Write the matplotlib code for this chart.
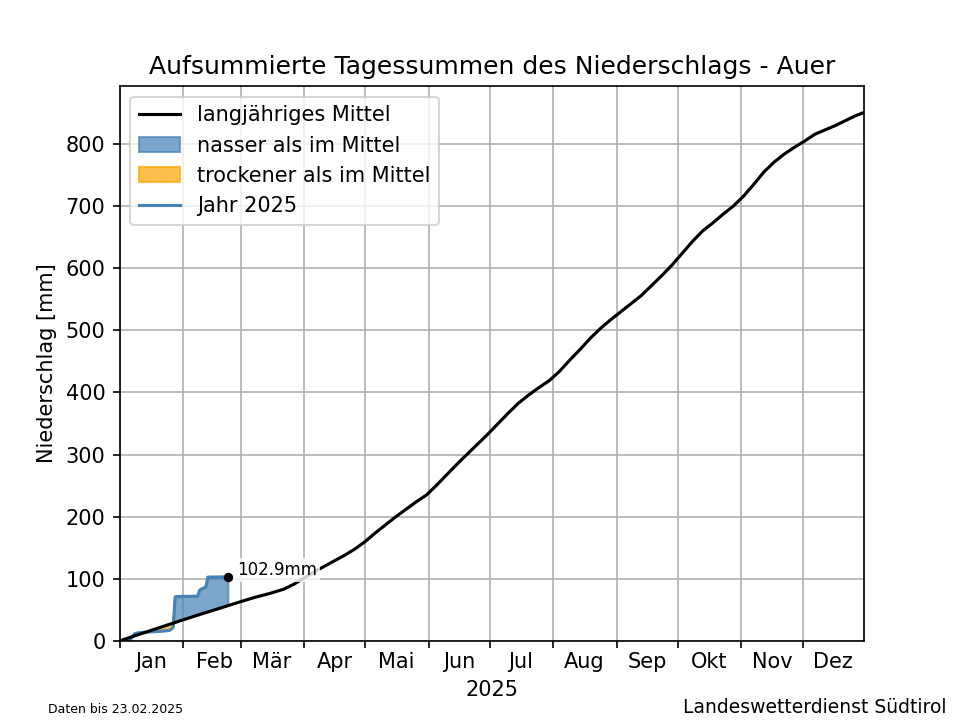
import numpy as np
import matplotlib
matplotlib.use("Agg")
import matplotlib.pyplot as plt
import matplotlib.dates as mdates
from matplotlib.ticker import NullFormatter, FixedFormatter

# ---------------- data ----------------
title = "Aufsummierte Tagessummen des Niederschlags - Auer"
month_labels = ["Jan", "Feb", "Mär", "Apr", "Mai", "Jun",
                "Jul", "Aug", "Sep", "Okt", "Nov", "Dez"]

# long-term mean cumulative precipitation (day of year index, mm)
mean_days = list(range(54)) + [59, 66, 73, 80, 85, 90, 95, 100, 105, 110, 115,
                               120, 125, 130, 135, 140, 145, 150, 155, 160, 165,
                               170, 175, 180, 185, 190, 195, 200, 205, 210, 215,
                               220, 225, 230, 235, 240, 245, 250, 255, 260, 265,
                               270, 275, 280, 285, 290, 295, 300, 305, 310, 315,
                               320, 325, 330, 335, 340, 345, 350, 355, 360, 364]
mean_vals = [0.0, 1.1, 2.3, 3.4, 4.5, 5.5, 6.6, 7.8, 8.9, 10.0,
             11.1, 12.2, 13.2, 14.3, 15.4, 16.6, 17.7, 18.7, 19.8, 20.9,
             22.0, 23.1, 24.1, 25.2, 26.3, 27.4, 28.4, 29.5, 30.6, 31.7,
             32.8, 33.9, 35.0, 36.0, 37.1, 38.1, 39.2, 40.2, 41.3, 42.3,
             43.4, 44.4, 45.4, 46.5, 47.5, 48.5, 49.6, 50.6, 51.6, 52.6,
             53.7, 54.7, 55.7, 56.8,
             63, 70, 76, 83, 91, 101, 111, 120, 129, 138, 148,
             160, 174, 187, 200, 212, 224, 235, 251, 268, 285,
             301, 317, 333, 350, 367, 383, 396, 408, 419, 434,
             452, 469, 487, 503, 517, 530, 543, 556, 572, 588,
             605, 624, 643, 660, 673, 687, 700, 716, 735, 755,
             771, 784, 795, 805, 816, 823, 830, 838, 846, 851]

# 2025 observed cumulative precipitation (day index, mm)
obs_days = list(range(54))
obs_vals = [0.0, 0.0, 0.2, 0.5, 1.0, 1.5, 6.0, 10.8, 12.4, 12.8,
            13.2, 13.5, 13.8, 14.0, 14.2, 14.4, 14.6, 14.8, 15.0, 15.2,
            15.4, 15.6, 15.9, 16.2, 16.6, 18.5, 21.5, 70.8, 71.2, 71.3,
            71.4, 71.5, 71.5, 71.6, 71.6, 71.7, 71.7, 71.8, 71.9, 81.5,
            83.5, 85.0, 86.5, 102.5, 102.6, 102.6, 102.7, 102.7, 102.8, 102.8,
            102.9, 102.9, 102.9, 102.9]
obs_label = "102.9mm"
footer_left = "Daten bis 23.02.2025"
footer_right = "Landeswetterdienst Südtirol"

# ---------------- plot ----------------
base = np.datetime64("2025-01-01")
mean_dates = base + np.array(mean_days).astype("timedelta64[D]")
obs_dates = base + np.array(obs_days).astype("timedelta64[D]")
mean_arr = np.array(mean_vals)
obs_arr = np.array(obs_vals)
mean_at_obs = mean_arr[:len(obs_days)]

fig, ax = plt.subplots(figsize=(6.4, 4.8), dpi=150)

ax.plot(mean_dates, mean_arr, color="black", lw=1.5, label="langjähriges Mittel", zorder=3)
ax.fill_between(obs_dates, mean_at_obs, obs_arr, where=obs_arr >= mean_at_obs,
                interpolate=True, color="steelblue", alpha=0.7,
                label="nasser als im Mittel", zorder=2)
ax.fill_between(obs_dates, mean_at_obs, obs_arr, where=obs_arr < mean_at_obs,
                interpolate=True, color="orange", alpha=0.7,
                label="trockener als im Mittel", zorder=2)
ax.plot(obs_dates, obs_arr, color="steelblue", lw=1.5, label="Jahr 2025", zorder=2.5)
ax.plot(obs_dates[-1], obs_arr[-1], "o", color="black", ms=3.5, zorder=4)
ax.annotate(obs_label, xy=(obs_dates[-1], obs_arr[-1]), xytext=(4, 1),
            textcoords="offset points", fontsize=8, ha="left", va="baseline",
            bbox=dict(facecolor="white", edgecolor="none", alpha=0.8, pad=1.5),
            zorder=5)

ax.set_xlim(np.datetime64("2025-01-01"), np.datetime64("2025-12-31"))
ax.set_ylim(0, 893)
ax.xaxis.set_major_locator(mdates.MonthLocator())
ax.xaxis.set_major_formatter(NullFormatter())
ax.xaxis.set_minor_locator(mdates.MonthLocator(bymonthday=16))
ax.xaxis.set_minor_formatter(FixedFormatter(month_labels))
ax.tick_params(axis="x", which="minor", length=2, width=0)
ax.grid(True, which="major")

ax.set_title(title)
ax.set_xlabel("2025")
ax.set_ylabel("Niederschlag [mm]")
ax.legend(loc="upper left")

fig.text(0.05, 0.005, footer_left, fontsize=6, ha="left", va="bottom")
fig.text(0.986, 0.004, footer_right, fontsize=9, ha="right", va="bottom")

fig.savefig("out.png", dpi=150)
